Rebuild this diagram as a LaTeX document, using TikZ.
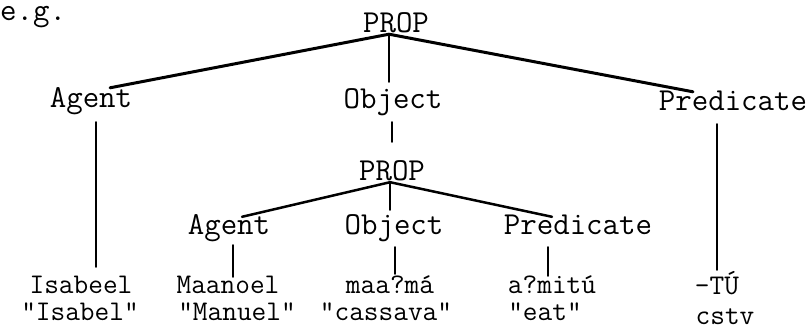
\documentclass[tikz,border=0pt]{standalone}
\usepackage{fontspec}
\begin{document}
\begin{tikzpicture}[x=1bp,y=-1bp,
  lbl/.style={font=\fontsize{32bp}{38bp}\ttfamily, inner sep=0pt, anchor=base, text height=20bp, text depth=7bp},
  word/.style={lbl, font=\fontsize{28.5bp}{32bp}\ttfamily, text height=18bp, text depth=2bp},
  thickline/.style={line width=3bp, line cap=round},
  midline/.style={line width=2.5bp, line cap=round},
  vline/.style={line width=2bp, line cap=round}]
\useasboundingbox[fill=white] (0,0) rectangle (812,334);
% labels
\node[lbl, anchor=base west, text height=14bp, text depth=1bp] (eg) at (0,20) {e.g.};
\node[lbl] (prop1) at (396,32) {PROP};
\node[lbl] (agent1) at (91,107) {Agent};
\node[lbl] (object1) at (393,108) {Object};
\node[lbl] (pred1) at (733,110) {Predicate};
\node[lbl] (prop2) at (392,180) {PROP};
\node[lbl] (agent2) at (229,234) {Agent};
\node[lbl] (object2) at (394,234) {Object};
\node[lbl] (pred2) at (578,234) {Predicate};
\node[word] (isabeel) at (81,293) {Isabeel};
\node[word] (maanoel) at (228,293) {Maanoel};
\node[word] (maama) at (390,293) {maa?má};
\node[word] (amitu) at (552,293) {a?mitú};
\node[word] (tu) at (717,294) {-TÚ};
\node[word] (gisabel) at (80,320) {"Isabel"};
\node[word] (gmanuel) at (237,320) {"Manuel"};
\node[word] (gcassava) at (386,320) {"cassava"};
\node[word] (geat) at (545,320) {"eat"};
\node[word] (cstv) at (725,324) {cstv};
% junctions
\coordinate (j1) at ([xshift=-7bp,yshift=5bp]prop1.south);
\coordinate (j2) at ([xshift=-2bp,yshift=5bp]prop2.south);
% top PROP
\draw[thickline] (j1) -- ([xshift=19bp,yshift=-1bp]agent1.north);
\draw[vline] (j1) -- ([yshift=6bp]j1 |- object1.north);
\draw[thickline] (j1) -- ([xshift=-40bp,yshift=-2bp]pred1.north);
% level 1 verticals
\draw[vline] ([xshift=5bp,yshift=-8bp]agent1.south) -- ([xshift=5bp,yshift=8bp]agent1.south |- isabeel.north);
\draw[vline] ([xshift=-1bp,yshift=-7bp]object1.south) -- ([xshift=-1bp,yshift=18bp]object1.south |- prop2.north);
\draw[vline] ([xshift=-16bp,yshift=-7bp]pred1.south) -- ([xshift=-16bp,yshift=6bp]pred1.south |- tu.north);
% second PROP
\draw[midline] (j2) -- ([xshift=13bp,yshift=-3bp]agent2.north);
\draw[vline] (j2) -- ([yshift=4bp]j2 |- object2.north);
\draw[midline] (j2) -- ([xshift=-26bp,yshift=-3bp]pred2.north);
% level 3 verticals
\draw[vline] ([xshift=4bp,yshift=-4bp]agent2.south) -- ([xshift=4bp,yshift=-2bp]agent2.south |- maanoel.north);
\draw[vline] ([xshift=1bp,yshift=-6bp]object2.south) -- ([xshift=1bp,yshift=1bp]object2.south |- maama.north);
\draw[vline] ([xshift=-30bp,yshift=-6bp]pred2.south) -- ([xshift=-30bp,yshift=-1bp]pred2.south |- amitu.north);
\end{tikzpicture}
\end{document}
